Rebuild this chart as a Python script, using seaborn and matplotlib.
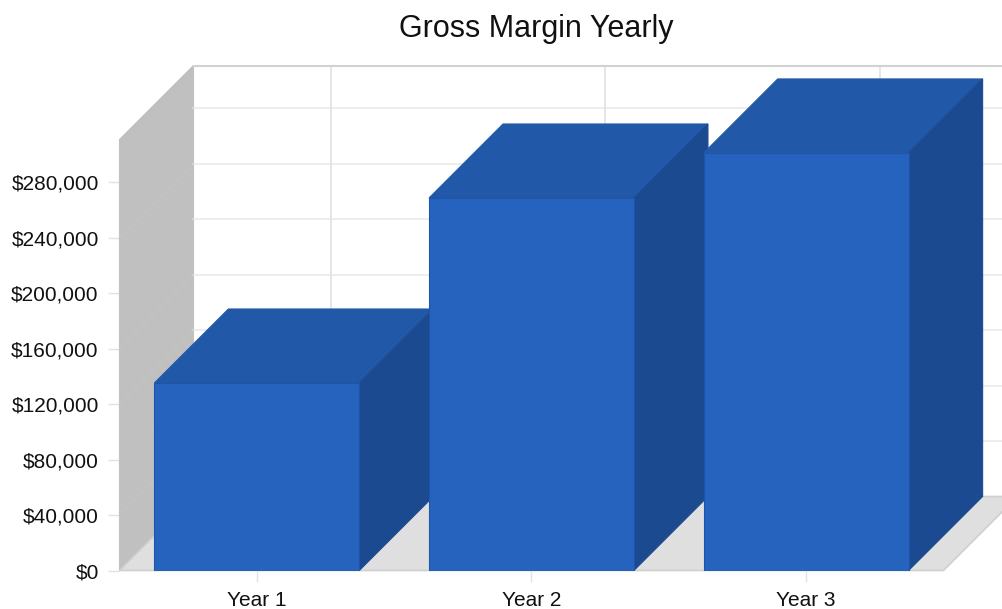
import matplotlib
matplotlib.use("Agg")
import matplotlib.pyplot as plt
from matplotlib.patches import Polygon
from matplotlib.ticker import StrMethodFormatter
import seaborn as sns

years = ["Year 1", "Year 2", "Year 3"]
gross_margin = [135300, 268800, 301300]
y_ticks = [0, 40000, 80000, 120000, 160000, 200000, 240000, 280000]
y_max = 311000

sns.set_theme(style="white")
plt.rcParams["font.family"] = ["Liberation Sans", "DejaVu Sans"]

W, H = 1003, 609
fig = plt.figure(figsize=(W / 100, H / 100), dpi=100)
ax = fig.add_axes([119.5 / W, 1 - 570.5 / H, 824 / W, 431 / H])

sns.barplot(x=years, y=gross_margin, color="#2563BE", saturation=1, width=0.746,
            edgecolor="#1F55A8", linewidth=0.8, ax=ax)

ax.set_xlim(-0.5, 2.5)
ax.set_ylim(0, y_max)
ax.set_xlabel("")
ax.set_ylabel("")

# depth of the fake 3d, 74 px in both directions
dx = 74 / 824 * 3
dy = 74 / 431 * y_max
x0, x1 = -0.5, 2.5


def face(pts, fc, ec=None, z=1, lw=0.8):
    ax.add_patch(Polygon(pts, closed=True, facecolor=fc, edgecolor=ec or fc,
                         linewidth=lw, zorder=z, clip_on=False))


# walls and floor
face([(x0, 0), (x0 + dx, dy), (x0 + dx, y_max + dy), (x0, y_max)], "#C0C0C0", z=1)
face([(x0, 0), (x0 + dx, dy), (x1 + dx, dy), (x1, 0)], "#DFDFDF", ec="#CFCFCF", z=1, lw=1.2)

for t in y_ticks[1:]:
    ax.plot([x0 + dx, x1 + dx], [t + dy, t + dy], color="#EAEAEC", lw=1.2, zorder=1.5, clip_on=False)
    ax.plot([x0, x0 + dx], [t, t + dy], color="#C6C6C6", lw=0.6, zorder=1.5, clip_on=False)
for i in range(len(years)):
    ax.plot([i + dx, i + dx], [dy, y_max + dy], color="#E2E2E6", lw=1.2, zorder=1.5, clip_on=False)
ax.plot([x0 + dx, x1 + dx], [y_max + dy, y_max + dy], color="#D2D2D2", lw=1.5, zorder=1.6, clip_on=False)

# top and side of every bar, later bars go over earlier ones
for i, bar in enumerate(ax.patches[:len(years)]):
    left = bar.get_x()
    right = left + bar.get_width()
    top = bar.get_height()
    z = 3 + 2 * i
    face([(left, top), (left + dx, top + dy), (right + dx, top + dy), (right, top)], "#2158A8", z=z)
    face([(right, 0), (right + dx, dy), (right + dx, top + dy), (right, top)], "#1C4A91", z=z)
    bar.set_zorder(z + 1)

ax.set_yticks(y_ticks)
ax.yaxis.set_major_formatter(StrMethodFormatter("${x:,.0f}"))
ax.tick_params(axis="both", length=8, width=1, color="#E2E2E2", labelcolor="#111111",
               labelsize=15, left=True, bottom=True)
ax.tick_params(axis="y", pad=7)
ax.tick_params(axis="x", pad=6.5)
sns.despine(ax=ax, left=True, bottom=True, top=True, right=True)

fig.text(536 / W, 1 - 29.5 / H, "Gross Margin Yearly", ha="center", va="center",
         fontsize=22, color="#111111")

fig.savefig("out.png", dpi=100)
